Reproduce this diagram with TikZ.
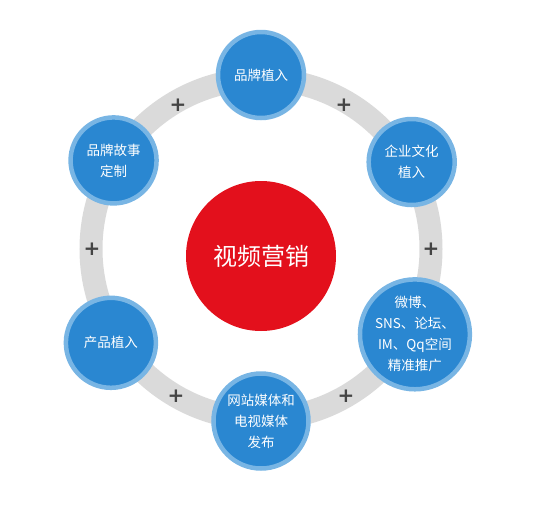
\documentclass[tikz,border=0pt]{standalone}
\usepackage{fontspec}
\newfontfamily\cjkfont{Noto Sans CJK SC}
\newfontfamily\plusfont{DejaVu Sans}
\definecolor{ringgray}{HTML}{DADADA}
\definecolor{ballblue}{HTML}{2A87D1}
\definecolor{ballrim}{HTML}{78B5E4}
\definecolor{hubred}{HTML}{E3101C}
\definecolor{plusgray}{HTML}{444444}
\tikzset{
  ball/.style={
    shape = circle,
    draw = ballrim,
    line width = 4.5pt,
    fill = ballblue,
    text = white,
    inner sep = 0pt,
    minimum size = 86pt,
    align = center,
    font = \cjkfont\fontsize{13.5}{21}\selectfont
  },
  bigball/.style={
    ball,
    minimum size = 95pt
  },
  hub/.style={
    shape = circle,
    fill = hubred,
    text = white,
    inner sep = 0pt,
    minimum size = 150pt,
    font = \cjkfont\fontsize{24}{24}\selectfont
  },
  plusmark/.style={
    text = plusgray,
    inner sep = 0pt,
    font = \plusfont\bfseries\fontsize{20}{20}\selectfont
  }
}
\begin{document}
\begin{tikzpicture}[x=1pt,y=1pt]
        \useasboundingbox (0,-512) rectangle (560,0);
        \begin{scope}[shift={(261,-249)}]
            \draw[ringgray, line width=23pt] (0,0) circle (170);
            \node[hub] (video) at (0,-7) {视频营销};
            \node[plusmark] (plusA) at (60:166) {+};
            \node[plusmark] (plusB) at (0:170) {+};
            \node[plusmark] (plusC) at (-60:170) {+};
            \node[plusmark] (plusD) at (-120:170) {+};
            \node[plusmark] (plusE) at (180:169) {+};
            \node[plusmark] (plusF) at (120:166) {+};
            \node[ball] (brand) at (90:174) {品牌植入};
            \node[ball] (culture) at (30:174) {企业文化\\植入};
            \node[bigball] (social) at (-29:176) {微博、\\SNS、论坛、\\IM、Qq空间\\精准推广};
            \node[bigball] (media) at (-90:172) {网站媒体和\\电视媒体\\发布};
            \node[ball, minimum size=90pt] (product) at (-148:177) {产品植入};
            \node[ball] (story) at (149:172) {品牌故事\\定制};
        \end{scope}
    \end{tikzpicture}
\end{document}
